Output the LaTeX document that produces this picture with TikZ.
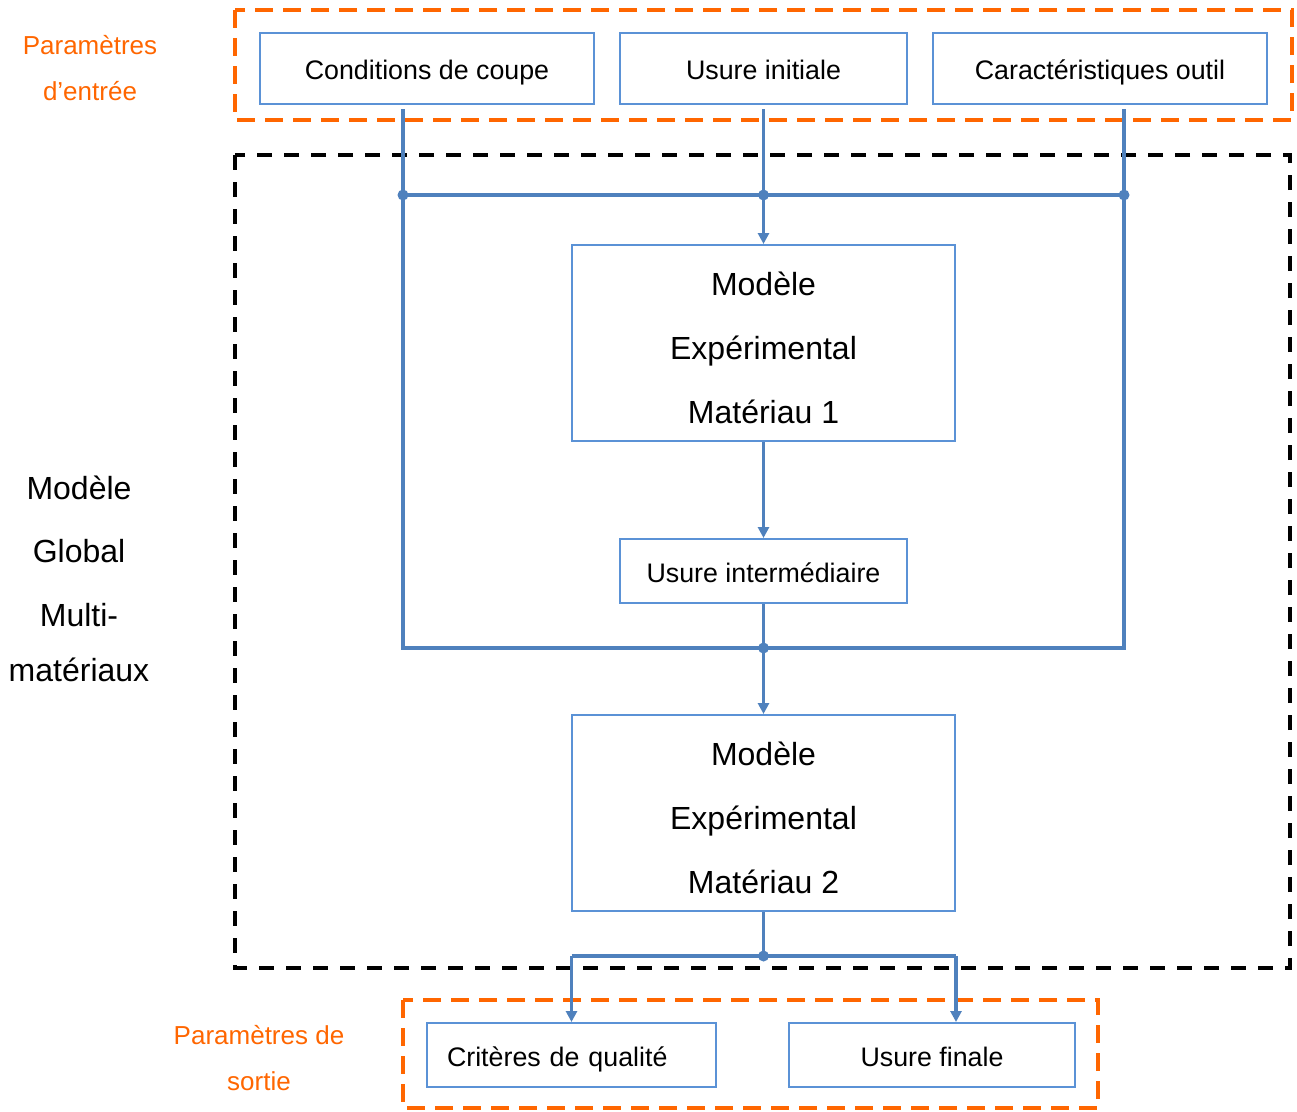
\documentclass[tikz,border=0pt]{standalone}
\usepackage{fontspec}
\setmainfont{Liberation Sans}
\usetikzlibrary{arrows.meta,calc}
\definecolor{connblue}{RGB}{79,129,189}
\definecolor{boxblue}{RGB}{91,146,214}
\definecolor{orng}{RGB}{255,102,0}
\begin{document}
\begin{tikzpicture}[x=1pt,y=-1pt,
  smallbox/.style={draw=boxblue,line width=2pt,inner sep=0pt,text height=25pt,text depth=3pt,font=\fontsize{26.8}{31}\selectfont},
  bigbox/.style={draw=boxblue,line width=2pt,inner sep=0pt,align=center,font=\fontsize{32}{64}\selectfont},
  conn/.style={draw=connblue,line width=3.5pt},
  arr/.style={conn,-{Triangle[width=11pt,length=11pt]}},
  jdot/.style={fill=connblue,circle,inner sep=0pt,minimum size=11pt},
  orangebox/.style={draw=orng,line width=3.5pt,dash pattern=on 18pt off 10pt},
  blackbox/.style={draw=black,line width=3.5pt,dash pattern=on 15pt off 12pt},
  olabel/.style={text=orng,font=\fontsize{26}{31}\selectfont},
  blabel/.style={font=\fontsize{32}{38}\selectfont}]
\useasboundingbox (0,0) rectangle (1297,1111);
% group frames
\draw[orangebox] (235,10) rectangle (1292,120);
\draw[blackbox] (235,155) rectangle (1290,968);
\draw[orangebox] (403,1000) rectangle (1098,1108);
% top inputs
\node[smallbox,minimum width=334pt,minimum height=71pt] (cdc) at (427,68.5) {Conditions de coupe};
\node[smallbox,minimum width=287pt,minimum height=71pt] (ui) at (763.5,68.5) {Usure initiale};
\node[smallbox,minimum width=334pt,minimum height=71pt] (car) at (1100,68.5) {Caractéristiques outil};
% models
\node[bigbox,minimum width=383pt,minimum height=196pt] (m1) at (763.5,343) {\rule{0pt}{33pt}Modèle\\Expérimental\\Matériau 1};
\node[smallbox,minimum width=287pt,minimum height=64pt] (uim) at (763.5,571) {Usure intermédiaire};
\node[bigbox,minimum width=383pt,minimum height=196pt] (m2) at (763.5,813) {\rule{0pt}{33pt}Modèle\\Expérimental\\Matériau 2};
% outputs
\node[smallbox,minimum width=287pt,minimum height=64pt,text width=249pt,inner xsep=20pt,align=left] (crit) at (571.5,1055) {Critères de qualité};
\node[smallbox,minimum width=286pt,minimum height=64pt] (uf) at (932,1055) {Usure finale};
% labels
\node[olabel] (pe1) at (90,45) {Paramètres};
\node[olabel] (pe2) at (90,91) {d’entrée};
\node[blabel] (lg1) at (79,488) {Modèle};
\node[blabel] (lg2) at (79,551) {Global};
\node[blabel] (lg3) at (79,615) {Multi-};
\node[blabel] (lg4) at (79,670) {matériaux};
\node[olabel] (ps1) at (259,1035) {Paramètres de};
\node[olabel] (ps2) at (259,1081) {sortie};
% junction coordinates
\coordinate (jL) at (403,195);
\coordinate (jM) at (763.5,195);
\coordinate (jR) at (1124,195);
\coordinate (bL) at (403,648);
\coordinate (bM) at (763.5,648);
\coordinate (bR) at (1124,648);
\coordinate (oM) at (763.5,956);
\coordinate (oL) at (571.5,956);
\coordinate (oR) at (956,956);
% connectors
\draw[conn] ($(cdc.south -| jL)+(0,4)$) -- (bL) -- (bR) -- ($(car.south -| jR)+(0,4)$);
\draw[conn] (jL) -- (jR);
\draw[arr] ($(ui.south)+(0,4)$) -- (m1.north);
\draw[arr] (m1.south) -- (uim.north);
\draw[conn] (uim.south) -- (bM);
\draw[arr] (bM) -- (m2.north);
\draw[conn] (m2.south) -- (oM);
\draw[conn] (oL) -- (oR);
\draw[arr] (oL) -- (crit.north);
\draw[arr] (oR) -- (uf.north -| oR);
% dots
\node[jdot] (d1) at (jL) {};
\node[jdot] (d2) at (jM) {};
\node[jdot] (d3) at (jR) {};
\node[jdot] (d4) at (bM) {};
\node[jdot] (d5) at (oM) {};
\end{tikzpicture}
\end{document}
